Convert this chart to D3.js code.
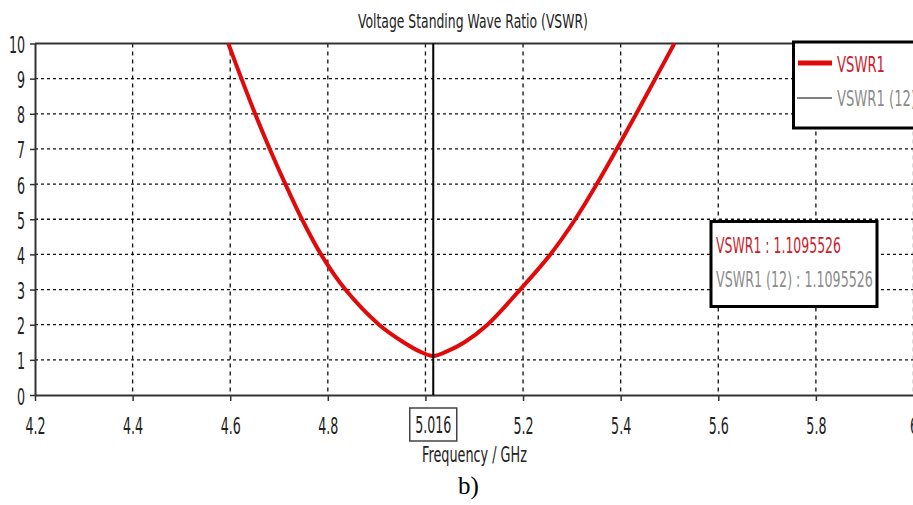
<!DOCTYPE html>
<html>
<head>
<meta charset="utf-8">
<script src="https://cdn.jsdelivr.net/npm/d3@7"></script>
<style>
    html, body { margin: 0; padding: 0; background: #fff; }
    svg { display: block; }
</style>
</head>
<body>
<svg id="chart"></svg>
<script>
// Data
const freqGHz = [4.596, 4.623, 4.651, 4.681, 4.713, 4.747, 4.786, 4.836, 4.905, 4.955, 4.988, 5.016,
                 5.044, 5.080, 5.127, 5.194, 5.256, 5.307, 5.351, 5.392, 5.432, 5.471, 5.51];
const vswr = [10, 9, 8, 7, 6, 5, 4, 3, 2, 1.5, 1.24, 1.1096,
              1.24, 1.5, 2, 3, 4, 5, 6, 7, 8, 9, 10];
const xTicks = [4.2, 4.4, 4.6, 4.8, 5.0, 5.2, 5.4, 5.6, 5.8, 6.0];
const xTickLabels = ["4.2", "4.4", "4.6", "4.8", "", "5.2", "5.4", "5.6", "5.8", "6"];
const yTicks = [0, 1, 2, 3, 4, 5, 6, 7, 8, 9, 10];
const legendNames = ["VSWR1", "VSWR1 (12)"];
const markerFreq = 5.016;
const markerLabels = ["VSWR1 : 1.1095526", "VSWR1 (12) : 1.1095526"];

const width = 913;
const height = 505;
const font = "'DejaVu Sans', Verdana, sans-serif";
const squeeze = 0.55;   // the source text is very narrow

const svg = d3.select("#chart")
    .attr("width", width)
    .attr("height", height);

const x = d3.scaleLinear().domain([4.2, 6.0]).range([35, 913.5]);
const y = d3.scaleLinear().domain([0, 10]).range([395, 43.5]);

// text squeezed to a given width (anchor start)
function fitText(parent, str, px, py, size, targetWidth, color, family) {
    const t = parent.append("text")
        .attr("font-family", family || font)
        .attr("font-size", size)
        .attr("fill", color)
        .text(str);
    const natural = t.node().getComputedTextLength();
    const sx = targetWidth ? targetWidth / natural : 1;
    t.attr("transform", `translate(${px},${py}) scale(${sx},1)`);
    return t;
}

// Grid
svg.append("g")
    .selectAll("line")
    .data(yTicks.filter(d => d > 0 && d < 10))
    .join("line")
    .attr("x1", x(4.2)).attr("x2", width)
    .attr("y1", d => y(d)).attr("y2", d => y(d))
    .attr("stroke", "#111")
    .attr("stroke-width", 1.3)
    .attr("stroke-dasharray", "3,3");

svg.append("g")
    .selectAll("line")
    .data(xTicks.slice(1))
    .join("line")
    .attr("x1", d => x(d)).attr("x2", d => x(d))
    .attr("y1", y(10)).attr("y2", y(0))
    .attr("stroke", "#111")
    .attr("stroke-width", 1.3)
    .attr("stroke-dasharray", "4,4");

// Axes
const xAxis = svg.append("g")
    .attr("transform", `translate(0,${y(0)})`)
    .call(d3.axisBottom(x).tickValues(xTicks).tickSize(6).tickSizeOuter(0)
        .tickFormat((d, i) => xTickLabels[i]));
xAxis.select(".domain").attr("stroke", "#333").attr("stroke-width", 2);
xAxis.selectAll(".tick line").attr("stroke", "#333").attr("stroke-width", 1.5);
xAxis.selectAll(".tick text")
    .attr("y", 0).attr("dy", 0)
    .attr("transform", `translate(0,39) scale(${squeeze},1)`)
    .attr("font-family", font)
    .attr("font-size", 23)
    .attr("fill", "#222");

const yAxis = svg.append("g")
    .attr("transform", `translate(${x(4.2)},0)`)
    .call(d3.axisLeft(y).tickValues(yTicks).tickSize(5).tickSizeOuter(0));
yAxis.select(".domain").attr("stroke", "#333").attr("stroke-width", 2);
yAxis.selectAll(".tick line").attr("stroke", "#333").attr("stroke-width", 1.5);
yAxis.selectAll(".tick text")
    .attr("x", 0).attr("dy", 0)
    .attr("transform", `translate(-10,9) scale(${squeeze},1)`)
    .attr("font-family", font)
    .attr("font-size", 23)
    .attr("fill", "#222");

// top border
svg.append("line")
    .attr("x1", x(4.2)).attr("x2", width)
    .attr("y1", y(10)).attr("y2", y(10))
    .attr("stroke", "#333")
    .attr("stroke-width", 2);

// Curve
const points = freqGHz.map((f, i) => [f, vswr[i]]);
const line = d3.line()
    .x(d => x(d[0]))
    .y(d => y(d[1]))
    .curve(d3.curveCatmullRom.alpha(0.5));

svg.append("path")
    .datum(points)
    .attr("fill", "none")
    .attr("stroke", "#e00a0a")
    .attr("stroke-width", 4)
    .attr("stroke-linejoin", "round")
    .attr("d", line);

// Marker line
svg.append("line")
    .attr("x1", x(markerFreq)).attr("x2", x(markerFreq))
    .attr("y1", y(10)).attr("y2", y(0))
    .attr("stroke", "#000")
    .attr("stroke-width", 2);

// Marker frequency box
svg.append("rect")
    .attr("x", x(markerFreq) - 23.5).attr("y", 408)
    .attr("width", 47).attr("height", 33)
    .attr("fill", "#fff")
    .attr("stroke", "#444")
    .attr("stroke-width", 1.5);
svg.append("text")
    .attr("transform", `translate(${x(markerFreq)},433) scale(${squeeze},1)`)
    .attr("text-anchor", "middle")
    .attr("font-family", font)
    .attr("font-size", 23)
    .attr("fill", "#222")
    .text(String(markerFreq));

// Marker value box
svg.append("rect")
    .attr("x", 711).attr("y", 221.5)
    .attr("width", 166).attr("height", 85)
    .attr("fill", "#fff")
    .attr("stroke", "#000")
    .attr("stroke-width", 3);
fitText(svg, markerLabels[0], 716, 253, 21, 125, "#c81e2e");
fitText(svg, markerLabels[1], 716, 287, 21, 157, "#8c8c8c");

// Legend (runs off the right edge like the original)
const legend = svg.append("g");
legend.append("rect")
    .attr("x", 793.5).attr("y", 42)
    .attr("width", 200).attr("height", 86)
    .attr("fill", "#fff")
    .attr("stroke", "#000")
    .attr("stroke-width", 3);
legend.append("line")
    .attr("x1", 798).attr("x2", 832).attr("y1", 63).attr("y2", 63)
    .attr("stroke", "#e00a0a").attr("stroke-width", 5);
legend.append("line")
    .attr("x1", 797).attr("x2", 832).attr("y1", 98).attr("y2", 98)
    .attr("stroke", "#808080").attr("stroke-width", 2);
fitText(legend, legendNames[0], 837, 72, 22, 48, "#c81e2e");
fitText(legend, legendNames[1], 837, 106, 22, 79, "#8c8c8c");

// Title, axis label, caption
fitText(svg, "Voltage Standing Wave Ratio (VSWR)", 358, 28, 20, 230, "#222");
fitText(svg, "Frequency / GHz", 422, 462, 21, 105, "#222");
fitText(svg, "b)", 458, 494, 25, 0, "#000", "'Liberation Serif', 'Times New Roman', serif");
</script>
</body>
</html>
